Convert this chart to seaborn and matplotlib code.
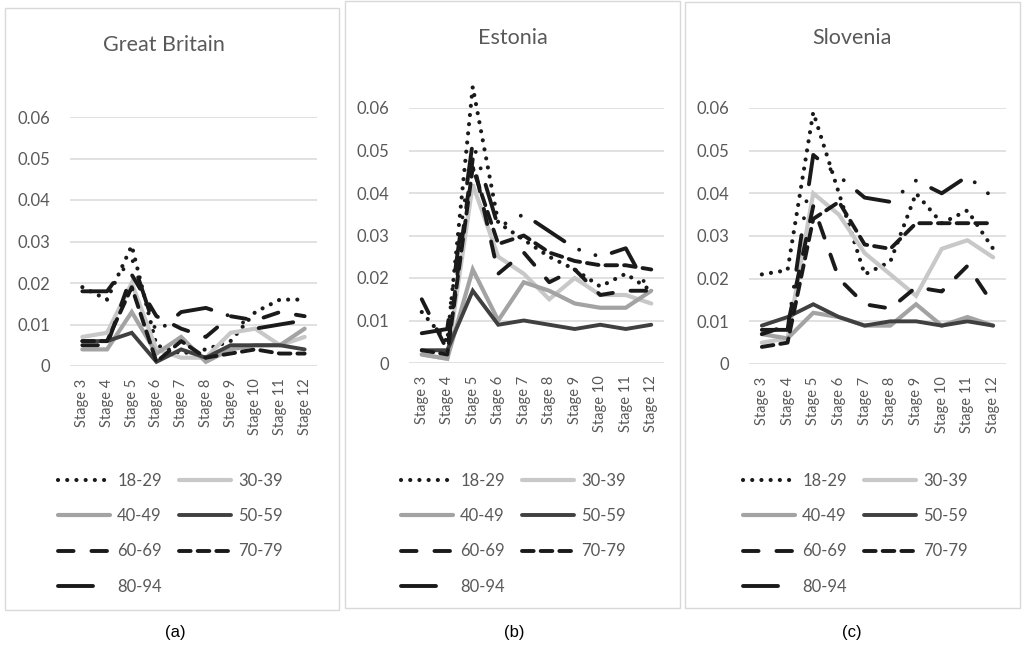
import numpy as np
import pandas as pd
import matplotlib
matplotlib.use("Agg")
import matplotlib.pyplot as plt
from matplotlib.patches import Rectangle
import seaborn as sns

# ---- data ----
stages = ["Stage 3", "Stage 4", "Stage 5", "Stage 6", "Stage 7",
          "Stage 8", "Stage 9", "Stage 10", "Stage 11", "Stage 12"]
age_groups = ["18-29", "30-39", "40-49", "50-59", "60-69", "70-79", "80-94"]
y_ticks = [0, 0.01, 0.02, 0.03, 0.04, 0.05, 0.06]
y_tick_labels = ["0", "0.01", "0.02", "0.03", "0.04", "0.05", "0.06"]

# rows follow age_groups
great_britain = [
    [0.019, 0.016, 0.029, 0.005, 0.003, 0.004, 0.006, 0.013, 0.016, 0.016],
    [0.007, 0.008, 0.020, 0.004, 0.002, 0.002, 0.008, 0.009, 0.005, 0.007],
    [0.004, 0.004, 0.013, 0.003, 0.007, 0.001, 0.004, 0.005, 0.005, 0.009],
    [0.006, 0.006, 0.008, 0.001, 0.004, 0.002, 0.005, 0.005, 0.005, 0.004],
    [0.005, 0.005, 0.022, 0.012, 0.009, 0.007, 0.012, 0.011, 0.013, 0.012],
    [0.006, 0.006, 0.019, 0.001, 0.006, 0.002, 0.003, 0.004, 0.003, 0.003],
    [0.018, 0.018, 0.026, 0.008, 0.013, 0.014, 0.012, 0.009, 0.010, 0.011],
]
estonia = [
    [0.012, 0.005, 0.065, 0.033, 0.029, 0.025, 0.022, 0.018, 0.021, 0.017],
    [0.002, 0.001, 0.042, 0.025, 0.021, 0.015, 0.020, 0.016, 0.016, 0.014],
    [0.002, 0.001, 0.022, 0.010, 0.019, 0.017, 0.014, 0.013, 0.013, 0.017],
    [0.003, 0.003, 0.017, 0.009, 0.010, 0.009, 0.008, 0.009, 0.008, 0.009],
    [0.015, 0.003, 0.048, 0.021, 0.026, 0.019, 0.022, 0.016, 0.017, 0.017],
    [0.003, 0.002, 0.046, 0.028, 0.030, 0.026, 0.024, 0.023, 0.023, 0.022],
    [0.007, 0.008, 0.052, 0.032, 0.035, 0.031, 0.027, 0.025, 0.027, 0.016],
]
slovenia = [
    [0.021, 0.022, 0.059, 0.040, 0.021, 0.024, 0.040, 0.033, 0.036, 0.027],
    [0.005, 0.006, 0.040, 0.035, 0.026, 0.021, 0.016, 0.027, 0.029, 0.025],
    [0.007, 0.006, 0.012, 0.011, 0.009, 0.009, 0.014, 0.009, 0.011, 0.009],
    [0.009, 0.011, 0.014, 0.011, 0.009, 0.010, 0.010, 0.009, 0.010, 0.009],
    [0.007, 0.009, 0.037, 0.020, 0.014, 0.013, 0.018, 0.017, 0.023, 0.014],
    [0.004, 0.005, 0.034, 0.038, 0.028, 0.027, 0.033, 0.033, 0.033, 0.033],
    [0.008, 0.008, 0.049, 0.044, 0.039, 0.038, 0.043, 0.040, 0.044, 0.039],
]

# ---- styling ----
BLACK = "#1a1a1a"
TXT = "#595959"
styles = {
    "18-29": dict(color=BLACK, lw=3.0, ls=(0, (0.01, 2.2))),
    "30-39": dict(color="#c8c8c8", lw=3.0, ls="-"),
    "40-49": dict(color="#a3a3a3", lw=3.0, ls="-"),
    "50-59": dict(color="#404040", lw=2.8, ls="-"),
    "60-69": dict(color=BLACK, lw=2.8, ls=(0, (4.0, 4.6))),
    "70-79": dict(color=BLACK, lw=2.8, ls=(0, (3.0, 1.8))),
    "80-94": dict(color=BLACK, lw=2.8, ls=(0, (9.0, 4.4, 0.01, 4.4, 0.01, 4.4))),
}

sns.set_theme(style="white")
plt.rcParams["font.family"] = ["Lato", "DejaVu Sans"]

W, H = 1026, 647
fig = plt.figure(figsize=(W / 100, H / 100), dpi=100)


def fx(x):
    return x / W


def fy(y):
    return 1 - y / H


# (title, data, plot box l/r/top/bottom, frame l/r/top/bottom, title x, caption, caption x, legend x)
panels = [
    ("Great Britain", great_britain, (70, 317, 117, 366), (5, 339, 8, 610), 164, "(a)", 175, 58),
    ("Estonia", estonia, (409, 664, 108, 363), (345, 680, 1, 608), 513, "(b)", 514, 401),
    ("Slovenia", slovenia, (749, 1006, 108, 364), (685, 1020, 2, 608), 852, "(c)", 852, 743),
]

x_pos = np.arange(len(stages))
# legend is filled column by column; this gives the row-wise order of the reference
legend_order = [0, 2, 4, 6, 1, 3, 5]

for title, values, (l, r, t, b), (fl, fr, ft, fb), tx, cap, cx, lx in panels:
    fig.patches.append(Rectangle((fx(fl), fy(fb)), fx(fr - fl), (fb - ft) / H,
                                 transform=fig.transFigure, fill=False,
                                 edgecolor="#d9d9d9", lw=1.0, zorder=0))
    ax = fig.add_axes([fx(l), fy(b), fx(r - l), (b - t) / H])
    df = pd.DataFrame(values, index=age_groups, columns=stages)

    for i, grp in enumerate(age_groups):
        st = styles[grp]
        sns.lineplot(x=x_pos, y=df.loc[grp].values, ax=ax, color=st["color"],
                     lw=st["lw"], linestyle=st["ls"], label=grp,
                     dash_capstyle="round", solid_capstyle="round",
                     solid_joinstyle="miter", clip_on=False, zorder=3 + i)

    ax.set_xlim(-0.5, len(stages) - 0.5)
    ax.set_ylim(0, 0.06)
    ax.set_yticks(y_ticks)
    ax.set_yticklabels(y_tick_labels)
    ax.set_xticks(x_pos)
    ax.set_xticklabels(stages, rotation=90)
    ax.tick_params(axis="y", length=0, pad=14, labelsize=12, labelcolor=TXT)
    ax.tick_params(axis="x", length=0, pad=9, labelsize=10.5, labelcolor=TXT)
    ax.grid(axis="y", color="#d9d9d9", lw=1.1)
    ax.grid(axis="x", visible=False)
    for s in ax.spines.values():
        s.set_visible(False)
    ax.set_xlabel("")
    ax.set_ylabel("")

    h, lab = ax.get_legend_handles_labels()
    h = [h[k] for k in legend_order]
    lab = [lab[k] for k in legend_order]
    ax.legend(h, lab, ncol=2, loc="upper left", frameon=False,
              bbox_to_anchor=(fx(lx), fy(473)), bbox_transform=fig.transFigure,
              fontsize=12, labelcolor=TXT, handlelength=3.1, handletextpad=0.45,
              columnspacing=1.05, labelspacing=1.15, borderpad=0, borderaxespad=0)

    fig.text(fx(tx), fy(45 if cap == "(a)" else 38), title, ha="center", va="center",
             fontsize=15.5, color=TXT)
    fig.text(fx(cx), fy(632), cap, ha="center", va="center", fontsize=12,
             color="black", family=["Liberation Sans", "DejaVu Sans"])

fig.savefig("out.png", dpi=100, facecolor="white")
